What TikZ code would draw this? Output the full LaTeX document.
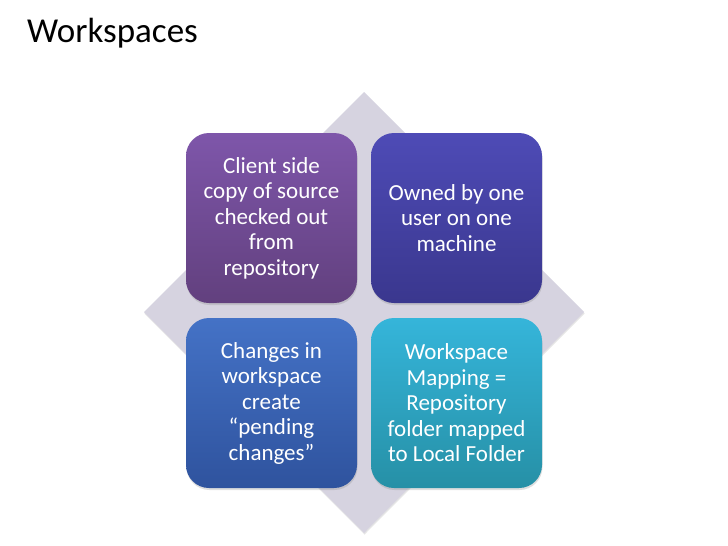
\documentclass[tikz,border=0pt]{standalone}
\usepackage{fontspec}
\setmainfont{Carlito}
\usetikzlibrary{shadows}
\definecolor{dia}{HTML}{D6D3E0}
\definecolor{tlT}{HTML}{7E56AA}
\definecolor{tlB}{HTML}{62407E}
\definecolor{trT}{HTML}{4E4BB6}
\definecolor{trB}{HTML}{3A378E}
\definecolor{blT}{HTML}{4472C6}
\definecolor{blB}{HTML}{2F539E}
\definecolor{brT}{HTML}{35B5DA}
\definecolor{brB}{HTML}{2690A6}
\tikzset{
  card/.style={rounded corners=23pt, minimum width=171pt, minimum height=170pt,
    inner sep=0pt, text=white, align=center, font=\fontsize{23}{25.5}\selectfont,
    drop shadow={opacity=0.25, shadow xshift=0.5pt, shadow yshift=-2pt}},
}
\begin{document}
\begin{tikzpicture}[x=1pt,y=-1pt]
\useasboundingbox (0,0) rectangle (728,546);
\fill[white] (0,0) rectangle (728,546);
\node[anchor=base west, inner sep=0pt, font=\fontsize{35}{40}\selectfont] (title) at (27,42) {Workspaces};
\fill[dia, drop shadow={opacity=0.2, shadow xshift=0.5pt, shadow yshift=-1.5pt}] (364,92) -- (584,312) -- (364,533) -- (144,312) -- cycle;
\node[card, top color=tlT, bottom color=tlB] (tl) at (271.5,218) {Client side\\copy of source\\checked out\\from\\repository};
\node[card, top color=trT, bottom color=trB] (tr) at (456.5,218) {Owned by one\\user on one\\machine};
\node[card, top color=blT, bottom color=blB] (bl) at (271.5,403) {Changes in\\workspace\\create\\“pending\\changes”};
\node[card, top color=brT, bottom color=brB] (br) at (456.5,403) {Workspace\\Mapping =\\Repository\\folder mapped\\to Local Folder};
\end{tikzpicture}
\end{document}
